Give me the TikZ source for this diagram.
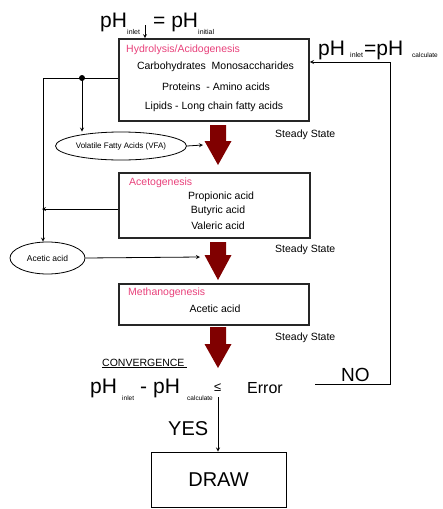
\documentclass[tikz,border=0pt]{standalone}
\usepackage{fontspec}
\setmainfont{Liberation Sans}
\usetikzlibrary{shapes.geometric,arrows}
\definecolor{stagered}{RGB}{232,64,122}
\definecolor{flowred}{RGB}{128,0,0}
\newcommand{\sz}[1]{\fontsize{#1}{#1}\selectfont}
\begin{document}
\begin{tikzpicture}[x=1pt,y=-1pt,>=stealth,
		StageBox/.style={draw=black!85,line width=1.6pt,inner sep=0pt},
		AcidNode/.style={ellipse,draw,line width=0.8pt,inner sep=0pt},
		Txt/.style={inner sep=0pt,font=\sz{10.5}},
		Title/.style={inner sep=0pt,anchor=west,text=stagered,font=\sz{10.5}},
		Big/.style={inner sep=0pt,anchor=base west,font=\sz{21}},
		Sub/.style={inner sep=0pt,anchor=base west,font=\sz{7}}]
		\useasboundingbox (0,0) rectangle (443,509);

		% 画三个阶段的方框
		\node[StageBox,minimum width=190pt,minimum height=82pt] (box1) at (214,80) {};
		\node[StageBox,minimum width=191pt,minimum height=65pt] (box2) at (214.5,205.5) {};
		\node[StageBox,minimum width=190pt,minimum height=41pt] (box3) at (214,304.5) {};
		\node[draw,line width=1pt,minimum width=135pt,minimum height=55pt,font=\sz{20}] (drawbox) at (218.5,479.5) {DRAW};

		% 方框里的文字
		\node[Title] (t1) at (126,50) {Hydrolysis/Acidogenesis};
		\node[Txt] (c1) at (215.5,67) {Carbohydrates\ \ Monosaccharides};
		\node[Txt] (c2) at (216,87) {Proteins\ \ - Amino acids};
		\node[Txt] (c3) at (214,107) {Lipids - Long chain fatty acids};
		\node[Title] (t2) at (129,183) {Acetogenesis};
		\node[Txt] (p1) at (221,197) {Propionic acid};
		\node[Txt] (p2) at (218,211) {Butyric acid};
		\node[Txt] (p3) at (218,226) {Valeric acid};
		\node[Title] (t3) at (128,293) {Methanogenesis};
		\node[Txt] (m1) at (215,309) {Acetic acid};

		% 椭圆结点
		\node[AcidNode,minimum width=131pt,minimum height=28pt,font=\sz{8}] (vfa) at (121,146) {Volatile Fatty Acids (VFA)};
		\node[AcidNode,minimum width=75pt,minimum height=32pt,font=\sz{8.5}] (acetic) at (47.5,258) {Acetic acid};

		% 三个大箭头
		\foreach \t/\h/\e in {125/141/165,242/255/280,327/344/368}
		\fill[flowred] (210,\t) -- (226,\t) -- (226,\h) -- (231.5,\h) -- (218,\e) -- (204.5,\h) -- (210,\h) -- cycle;

		% Steady State
		\foreach \y in {137,252,340}
		\node[Txt,anchor=base west] at (275,\y) {Steady State};

		% 顶部的 pH
		\node[Big] (ph1) at (100,27) {pH};
		\node[Sub] at (127,34) {inlet};
		\node[Big] at (153,27) {= pH};
		\node[Sub] at (198,34) {initial};
		\coordinate (inarr) at (145,25);
		\draw[->,line width=0.8pt] (inarr) -- (inarr |- box1.north);

		% 右边的 pH 和 NO 回路
		\node[Big] (ph2) at (318,55) {pH};
		\node[Sub] at (350,57) {inlet};
		\node[Big] at (364,55) {=pH};
		\node[Sub,font=\sz{6.5}] at (412,57) {calculate};
		\coordinate (nostart) at (315,384);
		\coordinate (corner) at (390,62);
		\draw[->,line width=0.9pt] (nostart) -- (corner |- nostart) -- (corner) -- (box1.east |- corner);
		\node[inner sep=0pt,anchor=base west,font=\sz{19}] (no) at (341,381) {NO};

		% 左边的连线
		\coordinate (lt) at (43,78);
		\coordinate (dot) at (82,78);
		\draw[->,line width=0.8pt] (box1.west |- lt) -- (lt) -- (lt |- acetic.north);
		\fill (dot) circle (3);
		\draw[->,line width=0.8pt] (dot) -- (dot |- vfa.north);
		\coordinate (a2end) at (42,209);
		\draw[->,line width=0.8pt] (box2.west |- a2end) -- (a2end);
		\coordinate (vfaend) at (203,145);
		\draw[->,line width=0.8pt] (vfa.east) -- (vfaend);
		\coordinate (acend) at (200,257);
		\draw[->,line width=0.8pt] (acetic.east) -- (acend);

		% 收敛判断
		\node[inner sep=0pt,anchor=base west,font=\sz{10.5}] (conv) at (102,366) {\underline{CONVERGENCE\ }};
		\node[Big] (ph3) at (90,393) {pH};
		\node[Sub,font=\sz{6.5}] at (122,400) {inlet};
		\node[Big] at (140,393) {-};
		\node[Big] at (153,393) {pH};
		\node[Sub,font=\sz{6.5}] at (187,400) {calculate};
		\node[inner sep=0pt,anchor=base west,font=\sz{13}] at (214,391) {≤};
		\node[inner sep=0pt,anchor=base west,font=\sz{16}] (err) at (247,393) {Error};
		\node[inner sep=0pt,anchor=base west,font=\sz{20}] (yes) at (168,435) {YES};
		\coordinate (yesstart) at (218,397);
		\draw[->,line width=0.8pt] (yesstart) -- (yesstart |- drawbox.north);
	\end{tikzpicture}
\end{document}
